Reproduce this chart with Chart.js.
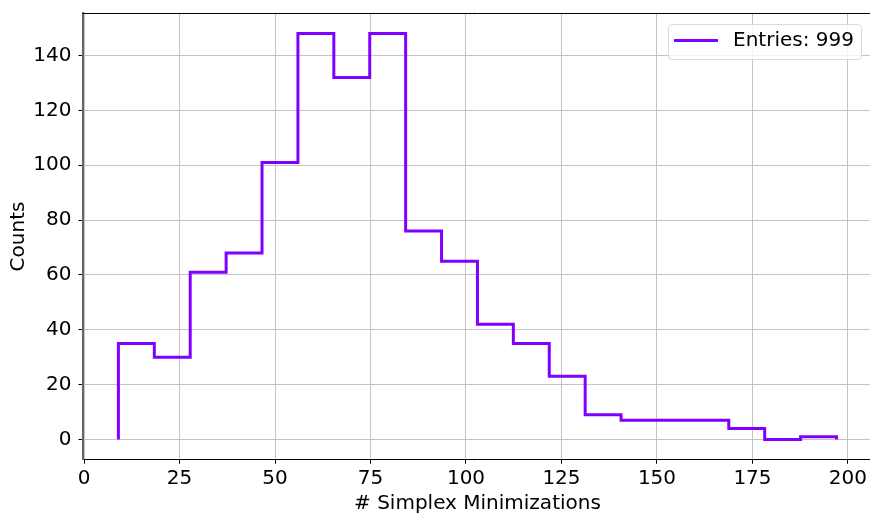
<!DOCTYPE html>
<html>
<head>
<meta charset="utf-8">
<script src="https://cdn.jsdelivr.net/npm/chart.js@4"></script>
<style>
  html, body { margin: 0; padding: 0; background: #fff; overflow: hidden; }
  #wrap { width: 880px; height: 513px; }
</style>
</head>
<body>
<div id="wrap"><canvas id="histChart"></canvas></div>
<script>
// histogram bins: 20 equal-width bins between the edges below
const binEdges = [9, 18.4, 27.8, 37.2, 46.6, 56, 65.4, 74.8, 84.2, 93.6, 103,
                  112.4, 121.8, 131.2, 140.6, 150, 159.4, 168.8, 178.2, 187.6, 197];
const counts = [35, 30, 61, 68, 101, 148, 132, 148, 76, 65,
                42, 35, 23, 9, 7, 7, 7, 4, 0, 1];
const xTicks = [0, 25, 50, 75, 100, 125, 150, 175, 200];
const yTicks = [0, 20, 40, 60, 80, 100, 120, 140];
const legendLabel = 'Entries: 999';

const lineColor = '#8000ff';
const font = { family: 'DejaVu Sans', size: 20 };

// step outline: start at zero, one point per bin, then drop back to zero
const points = [{ x: binEdges[0], y: 0 }];
counts.forEach((c, i) => points.push({ x: binEdges[i], y: c }));
points.push({ x: binEdges[binEdges.length - 1], y: counts[counts.length - 1] });
points.push({ x: binEdges[binEdges.length - 1], y: 0 });

// top spine + boxed legend in the upper right corner
const framePlugin = {
  id: 'frame',
  afterDraw(chart) {
    const ctx = chart.ctx;
    const a = chart.chartArea;
    ctx.save();
    ctx.strokeStyle = '#000';
    ctx.lineWidth = 1;
    ctx.beginPath();
    ctx.moveTo(a.left, Math.round(a.top) + 0.5);
    ctx.lineTo(a.right, Math.round(a.top) + 0.5);
    ctx.stroke();

    // legend box
    const bx = 668.5, by = 24.5, bw = 193, bh = 35;
    ctx.fillStyle = 'rgba(255,255,255,0.8)';
    ctx.strokeStyle = '#d9d9d9';
    ctx.beginPath();
    ctx.roundRect(bx, by, bw, bh, 4);
    ctx.fill();
    ctx.stroke();
    ctx.strokeStyle = lineColor;
    ctx.lineWidth = 3;
    ctx.beginPath();
    ctx.moveTo(674, 40.5);
    ctx.lineTo(718, 40.5);
    ctx.stroke();
    ctx.fillStyle = '#000';
    ctx.font = '20px "DejaVu Sans"';
    ctx.textBaseline = 'middle';
    ctx.fillText(legendLabel, 733, 41);
    ctx.restore();
  }
};

new Chart(document.getElementById('histChart'), {
  type: 'line',
  data: {
    datasets: [{
      label: legendLabel,
      data: points,
      stepped: 'before',
      borderColor: lineColor,
      borderWidth: 3,
      pointRadius: 0,
      fill: false
    }]
  },
  options: {
    responsive: true,
    maintainAspectRatio: false,
    animation: false,
    layout: { padding: { top: 13.3, right: 7.6, left: 0, bottom: 0 } },
    plugins: { legend: { display: false }, tooltip: { enabled: false } },
    scales: {
      x: {
        type: 'linear',
        min: -0.4,
        max: 206.4,
        afterBuildTicks: (s) => { s.ticks = xTicks.map(v => ({ value: v })); },
        afterFit: (s) => { s.height = 53.3; s.paddingLeft = 0; s.paddingRight = 0; },
        ticks: { color: '#000', font: font, padding: 3, maxRotation: 0 },
        grid: { color: '#c4c4c4', lineWidth: 1, tickColor: '#000', tickLength: 4 },
        border: { color: '#000', width: 1 },
        title: { display: true, text: '# Simplex Minimizations', color: '#000', font: font,
                 padding: { top: 0, bottom: -3 } }
      },
      y: {
        min: -7.4,
        max: 155.4,
        afterBuildTicks: (s) => { s.ticks = yTicks.map(v => ({ value: v })); },
        afterFit: (s) => { s.width = 82.5; s.paddingTop = 0; s.paddingBottom = 0; },
        ticks: { color: '#000', font: font, padding: 7 },
        grid: { color: '#c4c4c4', lineWidth: 1, tickColor: '#000', tickLength: 4 },
        border: { color: '#666', width: 2 },
        title: { display: true, text: 'Counts', color: '#000', font: font,
                 padding: { top: 7, bottom: 0 } }
      }
    }
  },
  plugins: [framePlugin]
});
</script>
</body>
</html>
